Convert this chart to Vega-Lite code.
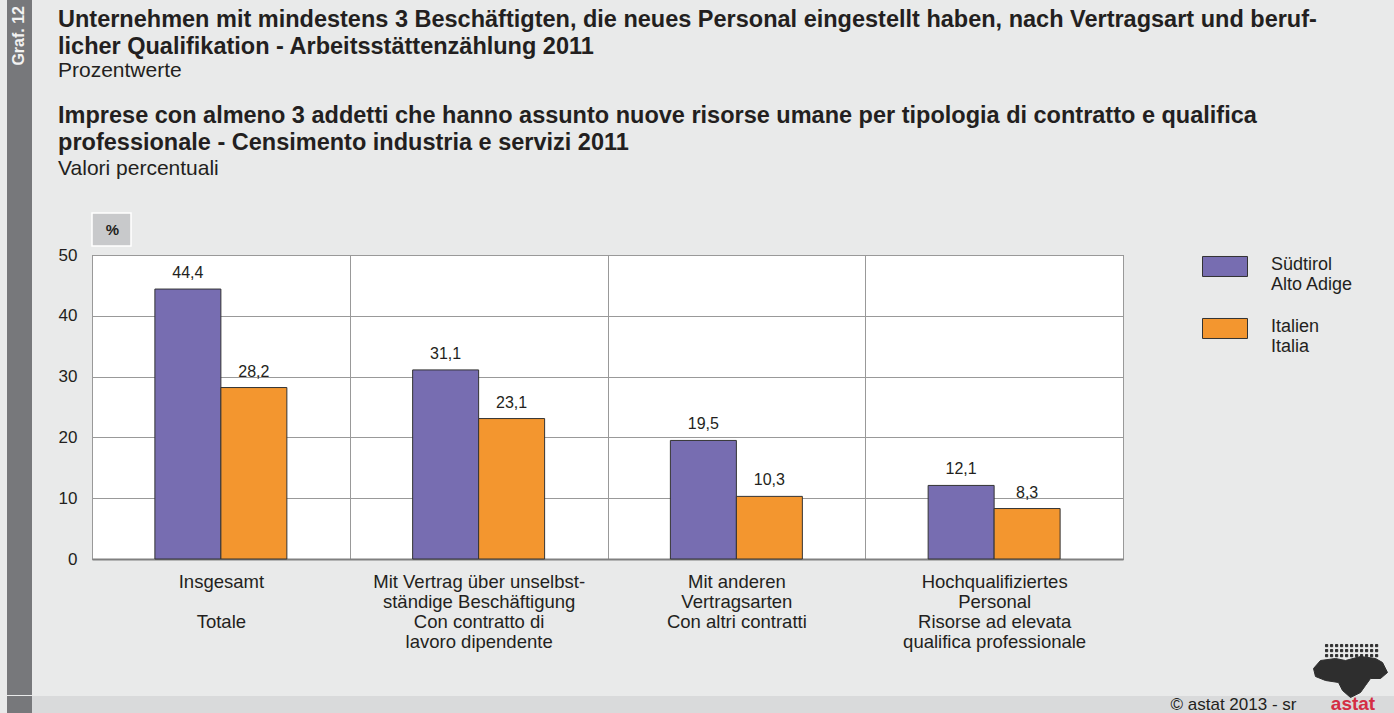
{
  "$schema": "https://vega.github.io/schema/vega-lite/v6.json",
  "background": "#e9eaea",
  "padding": {"left": 7, "top": 0, "right": 0, "bottom": 0},
  "autosize": {"type": "pad"},
  "config": {
    "font": "Liberation Sans",
    "view": {"stroke": null},
    "locale": {"number": {"decimal": ",", "thousands": ".", "grouping": [3], "currency": ["", " €"]}},
    "title": {"color": "#231f20", "subtitleColor": "#231f20", "font": "Liberation Sans", "subtitleFont": "Liberation Sans"}
  },
  "spacing": 0,
  "vconcat": [
    {
      "spacing": 25,
      "hconcat": [
        {
          "width": 25,
          "height": 695,
          "data": {"values": [{"k": 1}]},
          "mark": {"type": "rect", "color": "#77787b"},
          "view": {"fill": "#77787b", "stroke": null},
          "title": {"text": "Graf. 12", "orient": "left", "anchor": "end", "offset": -20, "dx": -6, "color": "#f2f2f2", "fontSize": 16, "fontWeight": "bold"}
        },
        {
          "spacing": 22,
          "vconcat": [
            {
              "width": 1031,
              "height": 1,
              "data": {"values": []},
              "mark": "rect",
              "title": {
                "text": ["Unternehmen mit mindestens 3 Beschäftigten, die neues Personal eingestellt haben, nach Vertragsart und beruf-", "licher Qualifikation - Arbeitsstättenzählung 2011"],
                "subtitle": "Prozentwerte",
                "orient": "bottom",
                "anchor": "start",
                "frame": "group",
                "dx": -34,
                "offset": 7,
                "fontSize": 23.5,
                "fontWeight": "bold",
                "lineHeight": 27,
                "subtitleFontSize": 21,
                "subtitlePadding": 1.5
              }
            },
            {
              "width": 1031,
              "height": 304,
              "view": {"fill": "white", "stroke": "#6d6e71", "strokeWidth": 1},
              "title": {
                "text": ["Imprese con almeno 3 addetti che hanno assunto nuove risorse umane per tipologia di contratto e qualifica", "professionale - Censimento industria e servizi 2011"],
                "subtitle": "Valori percentuali",
                "anchor": "start",
                "frame": "bounds",
                "fontSize": 23.5,
                "fontWeight": "bold",
                "lineHeight": 27,
                "subtitleFontSize": 21,
                "subtitlePadding": 3.5,
                "offset": 67
              },
              "data": {"values": [
                {"cat": "Insgesamt|\u2800|Totale", "region": "Südtirol|Alto Adige", "value": 44.4},
                {"cat": "Insgesamt|\u2800|Totale", "region": "Italien|Italia", "value": 28.2},
                {"cat": "Mit Vertrag über unselbst-|ständige Beschäftigung|Con contratto di|lavoro dipendente", "region": "Südtirol|Alto Adige", "value": 31.1},
                {"cat": "Mit Vertrag über unselbst-|ständige Beschäftigung|Con contratto di|lavoro dipendente", "region": "Italien|Italia", "value": 23.1},
                {"cat": "Mit anderen|Vertragsarten|Con altri contratti", "region": "Südtirol|Alto Adige", "value": 19.5},
                {"cat": "Mit anderen|Vertragsarten|Con altri contratti", "region": "Italien|Italia", "value": 10.3},
                {"cat": "Hochqualifiziertes|Personal|Risorse ad elevata|qualifica professionale", "region": "Südtirol|Alto Adige", "value": 12.1},
                {"cat": "Hochqualifiziertes|Personal|Risorse ad elevata|qualifica professionale", "region": "Italien|Italia", "value": 8.3}
              ]},
              "encoding": {
                "x": {
                  "field": "cat", "type": "nominal", "sort": null,
                  "scale": {"paddingInner": 0, "paddingOuter": 0},
                  "axis": {
                    "title": null, "labelExpr": "split(datum.label, '|')", "labelAngle": 0,
                    "ticks": false, "tickSize": 0, "labelPadding": 13, "labelFontSize": 18.5,
                    "labelLineHeight": 20, "labelColor": "#231f20", "labelLimit": 0,
                    "grid": true, "tickBand": "extent", "gridColor": "#999999", "gridWidth": 1,
                    "domainColor": "#808080", "domainWidth": 2
                  }
                },
                "xOffset": {
                  "field": "region", "type": "nominal",
                  "sort": ["Südtirol|Alto Adige", "Italien|Italia"],
                  "scale": {"paddingInner": 0, "paddingOuter": 0.953}
                },
                "y": {
                  "field": "value", "type": "quantitative",
                  "scale": {"domain": [0, 50], "nice": false},
                  "axis": {
                    "values": [0, 10, 20, 30, 40, 50], "grid": true, "gridColor": "#999999",
                    "ticks": false, "domain": false, "labelPadding": 15, "labelFontSize": 17,
                    "labelColor": "#231f20", "title": null
                  }
                }
              },
              "layer": [
                {
                  "mark": {"type": "bar", "stroke": "#333333", "strokeWidth": 1},
                  "encoding": {
                    "color": {
                      "field": "region", "type": "nominal",
                      "scale": {"domain": ["Südtirol|Alto Adige", "Italien|Italia"], "range": ["#776db1", "#f3962f"]},
                      "legend": {
                        "orient": "none", "legendX": 1195, "legendY": 246.5, "title": null,
                        "symbolType": "M-1,-0.578H1V0.311H-1Z", "symbolSize": 2025,
                        "symbolStrokeColor": "#333333", "symbolStrokeWidth": 1,
                        "labelExpr": "split(datum.label, '|')", "labelFontSize": 18,
                        "labelLineHeight": 22, "labelOffset": 23, "rowPadding": 15,
                        "labelBaseline": "alphabetic", "labelColor": "#231f20", "padding": 0
                      }
                    },
                    "strokeWidth": {
                      "datum": "astat", "type": "ordinal",
                      "scale": {"range": [1, 1]},
                      "legend": {
                        "orient": "none", "legendX": 1306, "legendY": 672, "title": null, "padding": 0,
                        "symbolType": "M-1,-1.108L-0.811,-1.324L-0.405,-1.378L-0.135,-1.324L0.27,-1.432L0.676,-1.378L0.865,-1.27L1,-1L0.811,-0.838L0.541,-0.838L0.405,-0.649L0.27,-0.459L0,-0.324L-0.216,-0.514L-0.324,-0.73L-0.676,-0.784L-0.946,-0.892Z M-0.676,-1.757h0.06v0.06h-0.06Z M-0.541,-1.757h0.06v0.06h-0.06Z M-0.405,-1.757h0.06v0.06h-0.06Z M-0.27,-1.757h0.06v0.06h-0.06Z M-0.135,-1.757h0.06v0.06h-0.06Z M0,-1.757h0.06v0.06h-0.06Z M0.135,-1.757h0.06v0.06h-0.06Z M0.27,-1.757h0.06v0.06h-0.06Z M0.405,-1.757h0.06v0.06h-0.06Z M0.541,-1.757h0.06v0.06h-0.06Z M0.676,-1.757h0.06v0.06h-0.06Z M-0.676,-1.622h0.06v0.06h-0.06Z M-0.541,-1.622h0.06v0.06h-0.06Z M-0.405,-1.622h0.06v0.06h-0.06Z M-0.27,-1.622h0.06v0.06h-0.06Z M-0.135,-1.622h0.06v0.06h-0.06Z M0,-1.622h0.06v0.06h-0.06Z M0.135,-1.622h0.06v0.06h-0.06Z M0.27,-1.622h0.06v0.06h-0.06Z M0.405,-1.622h0.06v0.06h-0.06Z M0.541,-1.622h0.06v0.06h-0.06Z M0.676,-1.622h0.06v0.06h-0.06Z M-0.676,-1.486h0.06v0.06h-0.06Z M-0.541,-1.486h0.06v0.06h-0.06Z M-0.405,-1.486h0.06v0.06h-0.06Z M-0.27,-1.486h0.06v0.06h-0.06Z M-0.135,-1.486h0.06v0.06h-0.06Z M0,-1.486h0.06v0.06h-0.06Z M0.135,-1.486h0.06v0.06h-0.06Z M0.27,-1.486h0.06v0.06h-0.06Z M0.405,-1.486h0.06v0.06h-0.06Z M0.541,-1.486h0.06v0.06h-0.06Z M0.676,-1.486h0.06v0.06h-0.06Z",
                        "symbolSize": 5476,
                        "symbolFillColor": "#2e2e2e", "symbolStrokeColor": "#2e2e2e", "symbolStrokeWidth": 0.5,
                        "labelOffset": -35, "labelAlign": "center", "labelBaseline": "alphabetic",
                        "labelFontSize": 19, "labelFontWeight": "bold", "labelColor": "#d42e44",
                        "encode": {"symbols": {"update": {"fill": {"value": "#2e2e2e"}, "stroke": {"value": "#2e2e2e"}, "strokeWidth": {"value": 0.5}}}}
                      }
                    },
                    "opacity": {
                      "datum": "%", "type": "nominal",
                      "scale": {"range": [1, 1]},
                      "legend": {
                        "orient": "none", "legendX": 84, "legendY": 209, "title": null, "padding": 0,
                        "symbolType": "M-1,-0.846H1V0.846H-1Z", "symbolSize": 1521,
                        "symbolFillColor": "#c8c9cb", "symbolStrokeColor": "#ffffff", "symbolStrokeWidth": 1.5,
                        "symbolOpacity": 1,
                        "labelOffset": -19.5, "labelAlign": "center", "labelFontSize": 15, "labelFontWeight": "bold",
                        "labelColor": "#231f20", "labelBaseline": "middle",
                        "encode": {
                          "symbols": {"update": {"fill": {"value": "#c8c9cb"}, "stroke": {"value": "#ffffff"}, "strokeWidth": {"value": 1.5}, "opacity": {"value": 1}}}
                        }
                      }
                    }
                  }
                },
                {
                  "mark": {"type": "text", "baseline": "alphabetic", "dy": -11, "fontSize": 16, "color": "#231f20"},
                  "encoding": {
                    "text": {"field": "value", "type": "quantitative", "format": ".1f"}
                  }
                }
              ]
            }
          ]
        }
      ]
    },
    {
      "spacing": 0,
      "hconcat": [
        {
          "width": 25,
          "height": 17,
          "data": {"values": [{"k": 1}]},
          "mark": {"type": "rect", "color": "#77787b"},
          "view": {"fill": "#77787b", "stroke": null}
        },
        {
          "width": 1130,
          "height": 17,
          "data": {"values": [{"k": 1}]},
          "mark": {"type": "rect", "color": "#d9dadb"},
          "view": {"fill": "#d9dadb", "stroke": null}
        },
        {
          "width": 143,
          "height": 17,
          "data": {"values": [{"t": "© astat 2013 - sr"}]},
          "view": {"fill": "#d9dadb", "stroke": null},
          "mark": {"type": "text", "align": "center", "baseline": "middle", "fontSize": 17, "color": "#231f20"},
          "encoding": {"text": {"field": "t", "type": "nominal"}}
        },
        {
          "width": 89,
          "height": 17,
          "data": {"values": [{"k": 1}]},
          "mark": {"type": "rect", "color": "#d9dadb"},
          "view": {"fill": "#d9dadb", "stroke": null}
        }
      ]
    }
  ]
}
